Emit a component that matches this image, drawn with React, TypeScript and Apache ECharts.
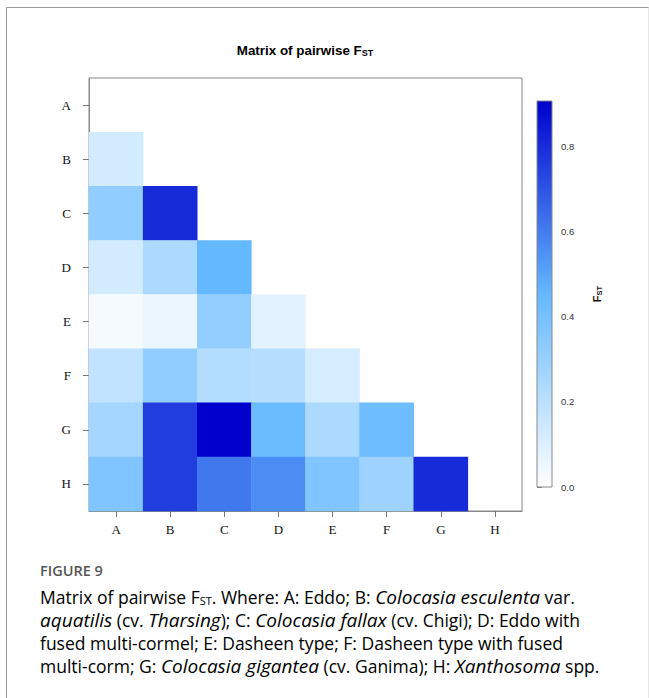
import React, { useEffect, useRef } from 'react';
import * as echarts from 'echarts';

const categories = ['A', 'B', 'C', 'D', 'E', 'F', 'G', 'H'];
// Lower triangle of the pairwise FST matrix: each row vs columns A, B, ...
const rowB = [0.13];
const rowC = [0.32, 0.8];
const rowD = [0.13, 0.24, 0.45];
const rowE = [0.03, 0.055, 0.31, 0.08];
const rowF = [0.18, 0.32, 0.22, 0.21, 0.12];
const rowG = [0.26, 0.755, 0.906, 0.43, 0.24, 0.42];
const rowH = [0.37, 0.755, 0.61, 0.56, 0.37, 0.28, 0.8];
const fstMin = 0;
const fstMax = 0.906;
const colorbarTicks = [0, 0.2, 0.4, 0.6, 0.8];
const colorRamp = ['#ffffff', '#63B8FF', '#0000CD'];

const rows: number[][] = [[], rowB, rowC, rowD, rowE, rowF, rowG, rowH];

export default function App() {
  const ref = useRef<HTMLDivElement>(null);
  useEffect(() => {
    if (!ref.current) return;
    const chart = echarts.init(ref.current, null, { renderer: 'svg' });
    const data: [number, number, number][] = [];
    rows.forEach((vals, r) => vals.forEach((v, c) => data.push([c, r, v])));

    const capColor = '#5e5e5e';
    const capBase = { fontFamily: 'Open Sans', fontSize: 17.5, color: capColor, lineHeight: 18 };
    const capRich = {
      n: { ...capBase },
      i: { ...capBase, fontSize: 19, fontStyle: 'italic' },
      s: { fontFamily: 'Open Sans', fontSize: 11, color: capColor, lineHeight: 11, verticalAlign: 'bottom' },
    };
    const capLines = [
      '{n|Matrix of pairwise F}{s|ST}{n|. Where: A: Eddo; B: }{i|Colocasia esculenta}{n| var.}',
      '{i|aquatilis}{n| (cv. }{i|Tharsing}{n|); C: }{i|Colocasia fallax}{n| (cv. Chigi); D: Eddo with}',
      '{n|fused multi-cormel; E: Dasheen type; F: Dasheen type with fused}',
      '{n|multi-corm; G: }{i|Colocasia gigantea}{n| (cv. Ganima); H: }{i|Xanthosoma}{n| spp.}',
    ];
    const capY = [597, 620, 643, 666];

    const axisFont = { fontFamily: 'Liberation Serif', fontSize: 13, color: '#111' };

    chart.setOption({
      animation: false,
      grid: [
        { left: 89, top: 78, width: 433, height: 433, show: true, borderColor: '#888', borderWidth: 1, backgroundColor: 'transparent' },
        { left: 537, top: 101, width: 15, height: 386 },
      ],
      xAxis: [
        {
          type: 'category',
          data: categories,
          gridIndex: 0,
          position: 'bottom',
          axisLine: { show: true, lineStyle: { color: '#888' } },
          axisTick: { show: true, alignWithLabel: true, length: 6, lineStyle: { color: '#777' } },
          axisLabel: { ...axisFont, margin: 12 },
          splitLine: { show: false },
        },
        { type: 'value', gridIndex: 1, show: false, min: 0, max: 1 },
      ],
      yAxis: [
        {
          type: 'category',
          data: categories,
          gridIndex: 0,
          inverse: true,
          axisLine: { show: true, lineStyle: { color: '#888' } },
          axisTick: { show: true, alignWithLabel: true, length: 6, lineStyle: { color: '#777' } },
          axisLabel: { ...axisFont, margin: 18 },
          splitLine: { show: false },
        },
        {
          type: 'value',
          gridIndex: 1,
          position: 'right',
          min: fstMin,
          max: fstMax,
          axisLine: { show: true, lineStyle: { color: '#888' } },
          axisTick: { show: true, length: 5, lineStyle: { color: '#777' }, customValues: colorbarTicks },
          axisLabel: {
            customValues: colorbarTicks,
            formatter: (v: number) => v.toFixed(1),
            fontFamily: 'Liberation Sans',
            fontSize: 9.5,
            color: '#333',
            margin: 9,
          },
          splitLine: { show: false },
          name: '{a|F}{b|ST}',
          nameLocation: 'middle',
          nameRotate: 90,
          nameGap: 38,
          nameTextStyle: {
            rich: {
              a: { fontFamily: 'Liberation Sans', fontSize: 11, fontWeight: 'bold', color: '#111', lineHeight: 13 },
              b: { fontFamily: 'Liberation Sans', fontSize: 7.5, fontWeight: 'bold', color: '#111', lineHeight: 8, verticalAlign: 'bottom' },
            },
          },
        },
      ],
      visualMap: {
        show: false,
        type: 'continuous',
        min: fstMin,
        max: fstMax,
        seriesIndex: 0,
        inRange: { color: colorRamp },
      },
      series: [
        {
          type: 'heatmap',
          xAxisIndex: 0,
          yAxisIndex: 0,
          data,
          itemStyle: { borderWidth: 0 },
        },
      ],
      graphic: [
        { type: 'line', shape: { x1: 6.5, y1: 7.5, x2: 649, y2: 7.5 }, style: { stroke: '#999', lineWidth: 1 } },
        { type: 'line', shape: { x1: 6.5, y1: 7.5, x2: 6.5, y2: 698 }, style: { stroke: '#999', lineWidth: 1 } },
        { type: 'line', shape: { x1: 648.5, y1: 7.5, x2: 648.5, y2: 698 }, style: { stroke: '#e6e6e6', lineWidth: 1 } },
        {
          type: 'rect',
          shape: { x: 537, y: 101, width: 15, height: 386 },
          style: {
            fill: new echarts.graphic.LinearGradient(0, 1, 0, 0, [
              { offset: 0, color: colorRamp[0] },
              { offset: 0.5, color: colorRamp[1] },
              { offset: 1, color: colorRamp[2] },
            ]),
            stroke: '#888',
            lineWidth: 1,
          },
          z: 1,
        },
        {
          type: 'text',
          x: 305,
          y: 50,
          style: {
            text: '{a|Matrix of pairwise F}{b|ST}',
            align: 'center',
            verticalAlign: 'middle',
            rich: {
              a: { fontFamily: 'Liberation Sans', fontSize: 13.4, fontWeight: 'bold', color: '#000', lineHeight: 15 },
              b: { fontFamily: 'Liberation Sans', fontSize: 9, fontWeight: 'bold', color: '#000', lineHeight: 10, verticalAlign: 'bottom' },
            },
          },
        },
        {
          type: 'text',
          x: 40,
          y: 570,
          style: {
            text: 'FIGURE 9',
            fontFamily: 'Open Sans',
            fontSize: 14.5,
            fontWeight: 600,
            fill: '#555',
            align: 'left',
            verticalAlign: 'middle',
          },
        },
        ...capLines.map((t, k) => ({
          type: 'text',
          x: 40,
          y: capY[k],
          style: { text: t, rich: capRich, align: 'left', verticalAlign: 'middle' },
        })),
      ],
    });
    return () => chart.dispose();
  }, []);
  return <div ref={ref} style={{ position: 'fixed', left: 0, top: 0, width: 649, height: 698, background: '#fff' }} />;
}
